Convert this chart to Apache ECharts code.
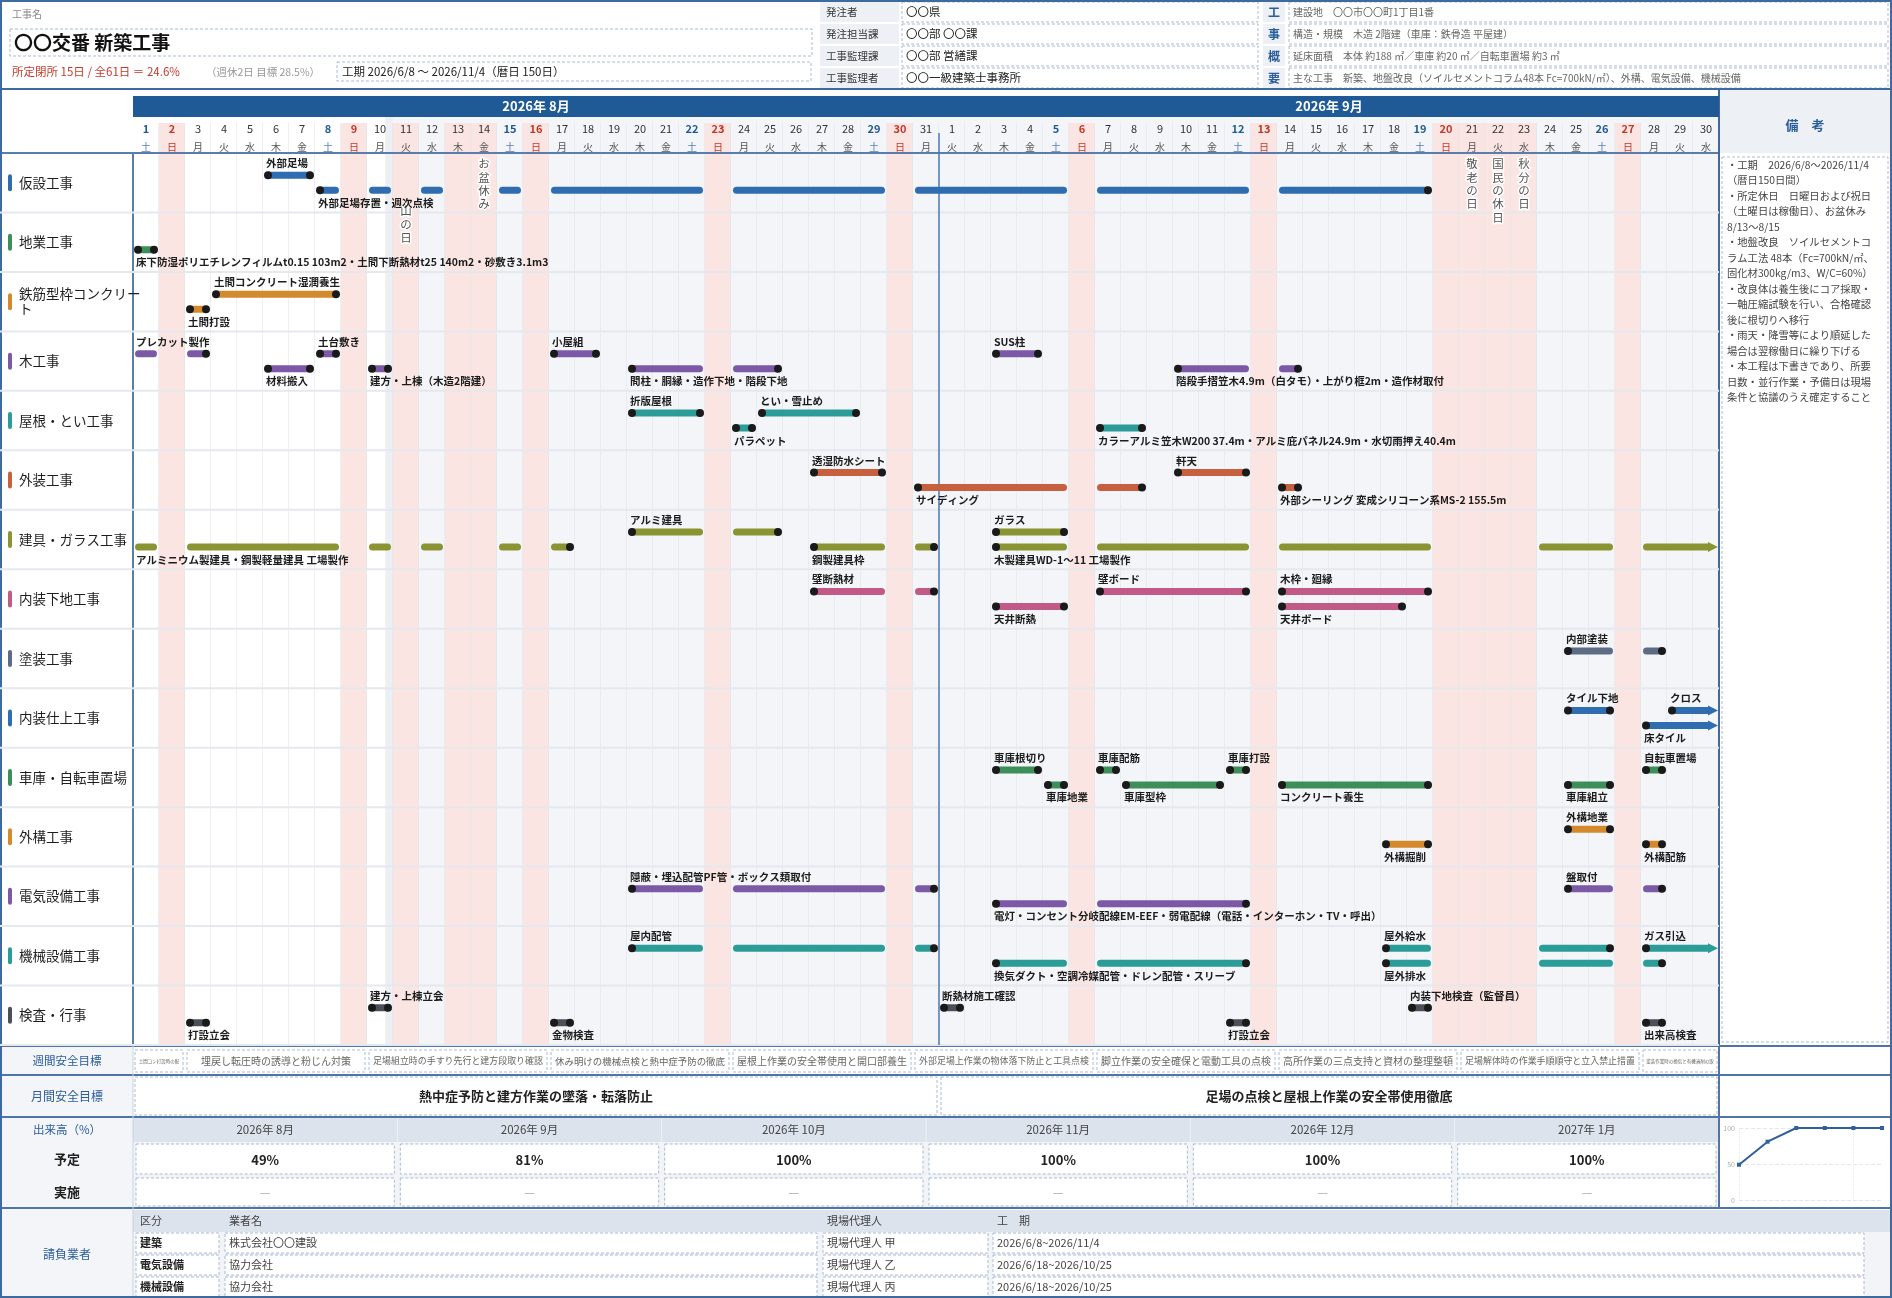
<!DOCTYPE html>
<html>
<head>
<meta charset="utf-8">
<script src="https://cdn.jsdelivr.net/npm/echarts@6/dist/echarts.min.js"></script>
<style>
html,body{margin:0;padding:0;background:#fff}
#main{width:1892px;height:1298px}
</style>
</head>
<body>
<div id="main"></div>
<script>
// ===== データ =====
var rows = ['仮設工事','地業工事','鉄筋型枠コンクリート','木工事','屋根・とい工事','外装工事','建具・ガラス工事',
  '内装下地工事','塗装工事','内装仕上工事','車庫・自転車置場','外構工事','電気設備工事','機械設備工事','検査・行事'];
var rowColors = ['#2f6cb0','#3e8e5a','#d48a2c','#7c59a6','#2b9c97','#c6603e','#8b9433',
  '#c15a86','#5e6b85','#2f6cb0','#3e8e5a','#d48a2c','#7c59a6','#2b9c97','#4b5058'];

var holidays = ['08-11','08-13','08-14','09-21','09-22','09-23'];
var holidayNames = [['08-11','山の日'],['08-14','お盆休み'],['09-21','敬老の日'],['09-22','国民の休日'],['09-23','秋分の日']];
var months = [['2026年 8月','08-01','08-31'],['2026年 9月','09-01','09-30']];

// [工種, 段(0上/1下), 開始, 終了, 名称]
var tasks = [
  [0,0,'08-06','08-07','外部足場'],
  [0,1,'08-08','09-19','外部足場存置・週次点検'],
  [1,1,'08-01','08-01','床下防湿ポリエチレンフィルムt0.15 103m2・土間下断熱材t25 140m2・砂敷き3.1m3'],
  [2,0,'08-04','08-08','土間コンクリート湿潤養生'],
  [2,1,'08-03','08-03','土間打設'],
  [3,0,'07-29','08-03','プレカット製作'],
  [3,0,'08-08','08-08','土台敷き'],
  [3,0,'08-17','08-18','小屋組'],
  [3,0,'09-03','09-04','SUS柱'],
  [3,1,'08-06','08-07','材料搬入'],
  [3,1,'08-10','08-10','建方・上棟（木造2階建）'],
  [3,1,'08-20','08-25','間柱・胴縁・造作下地・階段下地'],
  [3,1,'09-10','09-14','階段手摺笠木4.9m（白タモ）・上がり框2m・造作材取付'],
  [4,0,'08-20','08-22','折版屋根'],
  [4,0,'08-25','08-28','とい・雪止め'],
  [4,1,'08-24','08-24','パラペット'],
  [4,1,'09-07','09-08','カラーアルミ笠木W200 37.4m・アルミ庇パネル24.9m・水切雨押え40.4m'],
  [5,0,'08-27','08-29','透湿防水シート'],
  [5,0,'09-10','09-12','軒天'],
  [5,1,'08-31','09-08','サイディング'],
  [5,1,'09-14','09-14','外部シーリング 変成シリコーン系MS-2 155.5m'],
  [6,0,'08-20','08-25','アルミ建具'],
  [6,0,'09-03','09-05','ガラス'],
  [6,1,'07-27','08-17','アルミニウム製建具・鋼製軽量建具 工場製作'],
  [6,1,'08-27','08-31','鋼製建具枠'],
  [6,1,'09-03','10-10','木製建具WD-1～11 工場製作'],
  [7,0,'08-27','08-31','壁断熱材'],
  [7,0,'09-07','09-12','壁ボード'],
  [7,0,'09-14','09-19','木枠・廻縁'],
  [7,1,'09-03','09-05','天井断熱'],
  [7,1,'09-14','09-18','天井ボード'],
  [8,0,'09-25','09-28','内部塗装'],
  [9,0,'09-25','09-26','タイル下地'],
  [9,0,'09-29','10-10','クロス'],
  [9,1,'09-28','10-10','床タイル'],
  [10,0,'09-03','09-04','車庫根切り'],
  [10,0,'09-07','09-07','車庫配筋'],
  [10,0,'09-12','09-12','車庫打設'],
  [10,0,'09-28','09-28','自転車置場'],
  [10,1,'09-05','09-05','車庫地業'],
  [10,1,'09-08','09-11','車庫型枠'],
  [10,1,'09-14','09-19','コンクリート養生'],
  [10,1,'09-25','09-26','車庫組立'],
  [11,0,'09-25','09-26','外構地業'],
  [11,1,'09-18','09-19','外構掘削'],
  [11,1,'09-28','09-28','外構配筋'],
  [12,0,'08-20','08-31','隠蔽・埋込配管PF管・ボックス類取付'],
  [12,0,'09-25','09-28','盤取付'],
  [12,1,'09-03','09-12','電灯・コンセント分岐配線EM-EEF・弱電配線（電話・インターホン・TV・呼出）'],
  [13,0,'08-20','08-31','屋内配管'],
  [13,0,'09-18','09-26','屋外給水'],
  [13,0,'09-28','10-10','ガス引込'],
  [13,1,'09-03','09-12','換気ダクト・空調冷媒配管・ドレン配管・スリーブ'],
  [13,1,'09-18','09-28','屋外排水'],
  [14,0,'08-10','08-10','建方・上棟立会'],
  [14,0,'09-01','09-01','断熱材施工確認'],
  [14,0,'09-19','09-19','内装下地検査（監督員）'],
  [14,1,'08-03','08-03','打設立会'],
  [14,1,'08-17','08-17','金物検査'],
  [14,1,'09-12','09-12','打設立会'],
  [14,1,'09-28','09-28','出来高検査']
];

var weeklyGoals = [
  ['08-01','08-02','土間コン打設時の配筋点検と打設管理'],
  ['08-03','08-09','埋戻し転圧時の誘導と粉じん対策'],
  ['08-10','08-16','足場組立時の手すり先行と建方段取り確認'],
  ['08-17','08-23','休み明けの機械点検と熱中症予防の徹底'],
  ['08-24','08-30','屋根上作業の安全帯使用と開口部養生'],
  ['08-31','09-06','外部足場上作業の物体落下防止と工具点検'],
  ['09-07','09-13','脚立作業の安全確保と電動工具の点検'],
  ['09-14','09-20','高所作業の三点支持と資材の整理整頓'],
  ['09-21','09-27','足場解体時の作業手順順守と立入禁止措置'],
  ['09-28','09-30','塗装作業時の換気と有機溶剤の取扱い']
];
var monthlyGoals = [
  ['08-01','08-31','熱中症予防と建方作業の墜落・転落防止'],
  ['09-01','09-30','足場の点検と屋根上作業の安全帯使用徹底']
];

var progressMonths = ['2026年 8月','2026年 9月','2026年 10月','2026年 11月','2026年 12月','2027年 1月'];
var progressPlan = [49, 81, 100, 100, 100, 100];
var progressActual = [null, null, null, null, null, null];
var progressTicks = [0, 50, 100];

var contractors = [
  ['建築','株式会社〇〇建設','現場代理人 甲','2026/6/8~2026/11/4'],
  ['電気設備','協力会社','現場代理人 乙','2026/6/18~2026/10/25'],
  ['機械設備','協力会社','現場代理人 丙','2026/6/18~2026/10/25']
];

var ordererInfo = [['発注者','〇〇県'],['発注担当課','〇〇部 〇〇課'],['工事監理課','〇〇部 営繕課'],['工事監理者','〇〇一級建築士事務所']];
var outline = [
  ['工','建設地　〇〇市〇〇町1丁目1番'],
  ['事','構造・規模　木造 2階建（車庫：鉄骨造 平屋建）'],
  ['概','延床面積　本体 約188 ㎡／車庫 約20 ㎡／自転車置場 約3 ㎡'],
  ['要','主な工事　新築、地盤改良（ソイルセメントコラム48本 Fc=700kN/㎡）、外構、電気設備、機械設備']
];
var remarks = [
  '・工期　2026/6/8～2026/11/4','（暦日150日間）','・所定休日　日曜日および祝日','（土曜日は稼働日）、お盆休み','8/13～8/15',
  '・地盤改良　ソイルセメントコ','ラム工法 48本（Fc=700kN/㎡、','固化材300kg/m3、W/C=60%）',
  '・改良体は養生後にコア採取・','一軸圧縮試験を行い、合格確認','後に根切りへ移行',
  '・雨天・降雪等により順延した','場合は翌稼働日に繰り下げる',
  '・本工程は下書きであり、所要','日数・並行作業・予備日は現場','条件と協議のうえ確定すること'
];

// ===== 準備 =====
var FONT = '"Noto Sans CJK JP", "Noto Sans", sans-serif';
var START = Date.UTC(2026, 7, 1);
var N = 61;
var WEEK = ['日','月','火','水','木','金','土'];
function dayIdx(s) { var p = s.split('-'); return Math.round((Date.UTC(2026, +p[0] - 1, +p[1]) - START) / 864e5); }
var holidayIdx = holidays.map(dayIdx);
var days = [];
for (var i = 0; i < N; i++) {
  var dt = new Date(START + i * 864e5);
  var wd = dt.getUTCDay();
  var hol = holidayIdx.indexOf(i) >= 0;
  days.push({ key: (dt.getUTCMonth() + 1) + '-' + dt.getUTCDate(), date: dt.getUTCDate(), wd: wd,
    off: wd === 0 || hol, type: wd === 6 ? 'S' : (wd === 0 ? 'H' : 'N') });
}
var holidayTextTop = { '08-11': 211 };
var SHADE_FROM = 9.7;

var myChart = echarts.init(document.getElementById('main'));

// 背景（日ごとの列）
function renderBackdrop(params, api) {
  var d = params.dataIndex, cs = params.coordSys;
  var x0 = api.coord([d, 0])[0], x1 = api.coord([d + 1, 0])[0];
  var top = cs.y - 36, bottom = cs.y + cs.height;
  var ch = [];
  var base = d >= SHADE_FROM ? '#f3f5f9' : '#ffffff';
  ch.push({ type: 'rect', shape: { x: x0, y: top, width: x1 - x0, height: bottom - top }, style: { fill: base } });
  if (d < SHADE_FROM && d + 1 > SHADE_FROM) {
    var xs = api.coord([SHADE_FROM, 0])[0];
    ch.push({ type: 'rect', shape: { x: xs, y: top, width: x1 - xs, height: bottom - top }, style: { fill: '#eceff4' } });
  }
  if (days[d].off) ch.push({ type: 'rect', shape: { x: x0, y: top + 6, width: x1 - x0, height: bottom - top - 6 }, style: { fill: '#fbe5e2' } });
  ch.push({ type: 'line', shape: { x1: x1, y1: top + 6, x2: x1, y2: bottom }, style: { stroke: '#e1e4e9', lineWidth: 1.2 } });
  return { type: 'group', children: ch };
}

// 月帯
function renderMonth(params, api) {
  var m = months[params.dataIndex], cs = params.coordSys;
  var x0 = api.coord([dayIdx(m[1]), 0])[0], x1 = api.coord([dayIdx(m[2]) + 1, 0])[0];
  return { type: 'group', children: [
    { type: 'rect', shape: { x: x0, y: cs.y - 57, width: x1 - x0, height: 21 }, style: { fill: '#1f5a96' } },
    { type: 'text', style: { text: m[0], x: (x0 + x1) / 2, y: cs.y - 46.5, align: 'center', verticalAlign: 'middle',
      fill: '#fff', fontSize: 13, fontWeight: 'bold', fontFamily: FONT } }
  ] };
}

// 工種名と行区切り
function renderRow(params, api) {
  var r = params.dataIndex, cs = params.coordSys;
  var c = api.coord([0, r]), h = api.size([0, 1])[1];
  var yb = c[1] + h / 2;
  return { type: 'group', children: [
    { type: 'line', shape: { x1: 0, y1: yb, x2: cs.x + cs.width, y2: yb }, style: { stroke: '#e5e8ed', lineWidth: 2 } },
    { type: 'rect', shape: { x: 8, y: c[1] - 8.5, width: 4, height: 17, r: 2 }, style: { fill: rowColors[r] } },
    { type: 'text', style: { text: rows[r], x: 19, y: c[1], align: 'left', verticalAlign: 'middle', width: 123, overflow: 'break',
      lineHeight: 15, fill: '#1e1e1e', fontSize: 13.5, fontFamily: FONT } }
  ] };
}

// 祝日名（縦書き）
function renderHoliday(params, api) {
  var hn = holidayNames[params.dataIndex];
  var d = dayIdx(hn[0]);
  var x = (api.coord([d, 0])[0] + api.coord([d + 1, 0])[0]) / 2;
  var top = holidayTextTop[hn[0]] || 164;
  var ch = [];
  for (var k = 0; k < hn[1].length; k++) {
    ch.push({ type: 'text', style: { text: hn[1][k], x: x, y: top + k * 13.3, align: 'center', verticalAlign: 'middle',
      fill: '#555', stroke: '#fff', lineWidth: 3, fontSize: 11.5, fontFamily: FONT } });
  }
  return { type: 'group', children: ch };
}

// 工程バー
function renderTask(params, api) {
  var t = tasks[params.dataIndex];
  var row = t[0], s = dayIdx(t[2]), e = dayIdx(t[3]);
  var clipS = s < 0, clipE = e > N - 1;
  var s0 = Math.max(s, 0), e0 = Math.min(e, N - 1);
  var yc = api.coord([0, row])[1] + (t[1] ? 7.5 : -7.5);
  var color = rowColors[row];
  var segs = [], cur = null;
  for (var d = s0; d <= e0; d++) {
    if (days[d].off) { if (cur) { segs.push(cur); cur = null; } continue; }
    if (!cur) cur = [d, d]; else cur[1] = d;
  }
  if (cur) segs.push(cur);
  var ch = [], firstX = null, lastX = null;
  segs.forEach(function (sg, k) {
    var x0 = api.coord([sg[0], row])[0] + 2, x1 = api.coord([sg[1] + 1, row])[0] - 2;
    var isLast = k === segs.length - 1;
    if (isLast && clipE) {
      x1 = api.coord([N, row])[0] - 1;
      ch.push({ type: 'rect', shape: { x: x0, y: yc - 3.5, width: x1 - 7 - x0, height: 7, r: 3.5 }, style: { fill: color } });
      ch.push({ type: 'polygon', shape: { points: [[x1 - 10, yc - 5], [x1, yc], [x1 - 10, yc + 5]] }, style: { fill: color } });
    } else {
      ch.push({ type: 'rect', shape: { x: x0, y: yc - 3.5, width: x1 - x0, height: 7, r: 3.5 }, style: { fill: color } });
    }
    if (firstX === null) firstX = x0;
    lastX = x1;
  });
  if (!clipS) ch.push({ type: 'circle', shape: { cx: firstX + 3, cy: yc, r: 4 }, style: { fill: '#1a1a1a' } });
  if (!clipE) ch.push({ type: 'circle', shape: { cx: lastX - 3, cy: yc, r: 4 }, style: { fill: '#1a1a1a' } });
  ch.push({ type: 'text', style: { text: t[4], x: firstX + 1, y: yc + (t[1] ? 12.5 : -12), align: 'left', verticalAlign: 'middle',
    fill: '#1c1c1c', fontSize: 10.5, fontWeight: 'bold', fontFamily: FONT } });
  return { type: 'group', children: ch };
}

// 週間・月間安全目標
function renderWeekly(params, api) {
  var g = weeklyGoals[params.dataIndex], cs = params.coordSys;
  var x0 = api.coord([dayIdx(g[0]), 0])[0] + 2, x1 = api.coord([dayIdx(g[1]) + 1, 0])[0] - 2;
  var y = cs.y + cs.height + 5, w = x1 - x0;
  var fs = Math.max(4.5, Math.min(10, (w - 8) / g[2].length));
  return { type: 'group', children: [
    { type: 'rect', shape: { x: x0, y: y, width: w, height: 22 }, style: { fill: '#fff', stroke: '#a9bbd2', lineWidth: 1, lineDash: [3, 2] } },
    { type: 'text', style: { text: g[2], x: (x0 + x1) / 2, y: y + 11, align: 'center', verticalAlign: 'middle', width: w - 4, overflow: 'truncate', ellipsis: '',
      fill: '#666', fontSize: fs, fontFamily: FONT } }
  ] };
}
function renderMonthly(params, api) {
  var g = monthlyGoals[params.dataIndex], cs = params.coordSys;
  var x0 = api.coord([dayIdx(g[0]), 0])[0] + 2, x1 = api.coord([dayIdx(g[1]) + 1, 0])[0] - 2;
  var y = cs.y + cs.height + 32;
  return { type: 'group', children: [
    { type: 'rect', shape: { x: x0, y: y, width: x1 - x0, height: 38 }, style: { fill: '#fff', stroke: '#a9bbd2', lineWidth: 1, lineDash: [3, 2] } },
    { type: 'text', style: { text: g[2], x: (x0 + x1) / 2, y: y + 19, align: 'center', verticalAlign: 'middle',
      fill: '#222', fontSize: 13, fontWeight: 'bold', fontFamily: FONT } }
  ] };
}

// ===== 枠・表（graphic） =====
var G = [];
function R(x, y, w, h, fill, stroke, dash) {
  G.push({ type: 'rect', silent: true, shape: { x: x, y: y, width: w, height: h },
    style: { fill: fill || 'none', stroke: stroke || null, lineWidth: 1, lineDash: dash ? [3, 2] : null } });
}
function T(x, y, text, size, color, weight, align) {
  G.push({ type: 'text', silent: true, style: { text: text, x: x, y: y, fill: color, fontSize: size, fontWeight: weight || 'normal',
    fontFamily: FONT, align: align || 'left', verticalAlign: 'middle' } });
}
function L(x1, y1, x2, y2, color, w) {
  G.push({ type: 'line', silent: true, shape: { x1: x1, y1: y1, x2: x2, y2: y2 }, style: { stroke: color, lineWidth: w } });
}
var DASH = '#a9bbd2', LBL = '#edf1f6', HEAD = '#dce3ed', BLUE = '#2a5d9a', SEC = '#4f74a8';

// ヘッダー左
T(12, 14, '工事名', 10, '#888');
R(10, 29, 802, 27, '#fff', DASH, true);
T(14, 43, '〇〇交番 新築工事', 19, '#111', 'bold');
T(12, 72, '所定閉所 15日 / 全61日 ＝ 24.6%', 11.5, '#c43b2b');
T(206, 72, '（週休2日 目標 28.5%）', 10.5, '#999');
R(337, 62, 474, 19, '#fff', DASH, true);
T(342, 72, '工期 2026/6/8 ～ 2026/11/4（暦日 150日）', 11.5, '#222');
// ヘッダー中央
ordererInfo.forEach(function (r, i) {
  var y = 1 + i * 22;
  R(820, y + 1, 79, 20, LBL);
  T(826, y + 11, r[0], 10.5, '#333');
  R(902, y + 1, 356, 20, '#fff', DASH, true);
  T(906, y + 11, r[1], 11.5, '#222');
});
// 工事概要
outline.forEach(function (r, i) {
  var y = 1 + i * 22;
  R(1263, y + 1, 22, 20, LBL);
  T(1274, y + 11, r[0], 12, BLUE, 'bold', 'center');
  R(1289, y + 1, 599, 20, '#fff', DASH, true);
  T(1293, y + 11, r[1], 10, '#666');
});

// 備考
R(1720, 90, 171, 63, LBL);
T(1805, 125, '備　考', 13, BLUE, 'bold', 'center');
R(1722, 157, 166, 885, '#fff', DASH, true);
remarks.forEach(function (s, i) { T(1727, 165 + i * 15.5, s, 10.3, '#444'); });

// 下部ラベル列
R(1, 1047, 132, 250, '#f3f5f8');
T(67, 1061, '週間安全目標', 11.5, BLUE, 'normal', 'center');
T(67, 1096, '月間安全目標', 12, BLUE, 'normal', 'center');
T(67, 1130, '出来高（%）', 11.5, BLUE, 'normal', 'center');
T(67, 1159, '予定', 13, '#222', 'bold', 'center');
T(67, 1192, '実施', 13, '#222', 'bold', 'center');
T(67, 1254, '請負業者', 12, BLUE, 'normal', 'center');

// 出来高表
var colW = 1586 / progressMonths.length;
R(133, 1118, 1586, 24, HEAD);
R(133, 1142, 1586, 65, '#f2f4f7');
progressMonths.forEach(function (m, i) {
  var x = 133 + i * colW;
  T(x + colW / 2, 1130, m, 11.5, '#444', 'normal', 'center');
  if (i > 0) L(x, 1118, x, 1142, '#eef1f5', 1);
  R(x + 3, 1144, colW - 6, 30, '#fff', DASH, true);
  T(x + colW / 2, 1160, progressPlan[i] + '%', 13, '#222', 'bold', 'center');
  R(x + 3, 1178, colW - 6, 28, '#fff', DASH, true);
  T(x + colW / 2, 1192, progressActual[i] == null ? '—' : progressActual[i] + '%', 12, '#aaa', 'normal', 'center');
});

// 請負業者表
R(133, 1210, 1757, 22, HEAD);
R(133, 1232, 1757, 65, '#f2f4f7');
var cCols = [[136, 83], [225, 592], [823, 165], [993, 871]];
var cHead = ['区分', '業者名', '現場代理人', '工　期'];
cHead.forEach(function (h, j) { T(cCols[j][0] + 4, 1221, h, 11, '#444'); });
contractors.forEach(function (c, i) {
  var y = 1233 + i * 22;
  c.forEach(function (v, j) {
    R(cCols[j][0], y, cCols[j][1], 20, '#fff', DASH, true);
    T(cCols[j][0] + 4, y + 10, v, 11, j === 0 ? '#222' : '#444', j === 0 ? 'bold' : 'normal');
  });
});

// 罫線
L(0, 89, 1892, 89, '#3f6aa1', 2);
L(0, 153, 1719, 153, '#5a7db0', 2);
L(133, 153, 133, 1046, '#5a7db0', 2);
L(1719, 89, 1719, 1046, '#3f6aa1', 2);
[1046, 1075, 1117, 1208].forEach(function (y) { L(0, y, 1892, y, SEC, 2); });
L(133, 1046, 133, 1298, '#c9d3e0', 1);
L(1719, 1046, 1719, 1208, SEC, 2);
G.push({ type: 'rect', silent: true, shape: { x: 1, y: 1, width: 1890, height: 1296 }, style: { fill: 'none', stroke: '#3f6aa1', lineWidth: 2 } });

// ===== オプション =====
var option = {
  animation: false,
  backgroundColor: '#fff',
  textStyle: { fontFamily: FONT },
  graphic: { elements: G },
  grid: [
    { left: 133, top: 153, width: 1586, height: 892 },
    { left: 1739, top: 1128, width: 143, height: 72 }
  ],
  xAxis: [
    { type: 'value', gridIndex: 0, min: 0, max: N, show: false },
    { type: 'category', gridIndex: 0, position: 'top', data: days.map(function (d) { return d.key; }),
      axisLine: { show: false }, axisTick: { show: false }, splitLine: { show: false },
      axisLabel: { interval: 0, margin: -4,
        formatter: function (v, i) { var d = days[i]; return '{n' + d.type + '|' + d.date + '}\n{w' + d.type + '|' + WEEK[d.wd] + '}'; },
        rich: {
          nN: { color: '#333', fontSize: 11, lineHeight: 19, fontFamily: FONT },
          nS: { color: '#1f5a96', fontSize: 11, fontWeight: 'bold', lineHeight: 19, fontFamily: FONT },
          nH: { color: '#c0392b', fontSize: 11, fontWeight: 'bold', lineHeight: 19, fontFamily: FONT },
          wN: { color: '#555', fontSize: 10, lineHeight: 19, fontFamily: FONT },
          wS: { color: '#5b7fb0', fontSize: 10, lineHeight: 19, fontFamily: FONT },
          wH: { color: '#c0392b', fontSize: 10, lineHeight: 19, fontFamily: FONT }
        } } },
    { type: 'category', gridIndex: 1, data: progressMonths, boundaryGap: false,
      axisLine: { show: false }, axisTick: { show: false }, axisLabel: { show: false },
      splitLine: { show: true, lineStyle: { color: '#e3e6ea', type: 'dotted' } } }
  ],
  yAxis: [
    { type: 'category', gridIndex: 0, data: rows, inverse: true, show: false },
    { type: 'value', gridIndex: 1, min: progressTicks[0], max: progressTicks[2], interval: progressTicks[1] - progressTicks[0],
      axisLine: { show: false }, axisTick: { show: false },
      axisLabel: { fontSize: 7, color: '#aaa', margin: 4 },
      splitLine: { lineStyle: { color: '#e3e6ea', type: 'dashed' } } }
  ],
  series: [
    { type: 'custom', name: 'backdrop', z: -5, clip: false, silent: true, renderItem: renderBackdrop,
      data: days.map(function (d, i) { return [i, 0]; }) },
    { type: 'custom', name: 'rows', z: 3, clip: false, silent: true, renderItem: renderRow,
      data: rows.map(function (r, i) { return [0, i]; }) },
    { type: 'custom', name: 'months', z: 3, clip: false, silent: true, renderItem: renderMonth,
      data: months.map(function (m) { return [dayIdx(m[1]), 0]; }) },
    { type: 'custom', name: 'monthLine', z: 4, clip: false, silent: true,
      renderItem: function (params, api) {
        var x = api.coord([params.dataIndex === 0 ? dayIdx(months[1][1]) : 0, 0])[0], cs = params.coordSys;
        return { type: 'line', shape: { x1: x, y1: cs.y - 20, x2: x, y2: cs.y + cs.height }, style: { stroke: '#4d79b0', lineWidth: 1.5 } };
      }, data: [[dayIdx(months[1][1]), 0]] },
    { type: 'custom', name: 'holidays', z: 4, clip: false, silent: true, renderItem: renderHoliday,
      data: holidayNames.map(function (h) { return [dayIdx(h[0]), 0]; }) },
    { type: 'custom', name: 'tasks', z: 5, clip: false, silent: true, renderItem: renderTask,
      data: tasks.map(function (t) { return [Math.max(0, dayIdx(t[2])), t[0]]; }) },
    { type: 'custom', name: 'weekly', z: 3, clip: false, silent: true, renderItem: renderWeekly,
      data: weeklyGoals.map(function (g) { return [dayIdx(g[0]), 0]; }) },
    { type: 'custom', name: 'monthly', z: 3, clip: false, silent: true, renderItem: renderMonthly,
      data: monthlyGoals.map(function (g) { return [dayIdx(g[0]), 0]; }) },
    { type: 'line', xAxisIndex: 2, yAxisIndex: 1, data: progressPlan, symbol: 'rect', symbolSize: 4,
      lineStyle: { color: '#2f5f9c', width: 2 }, itemStyle: { color: '#2f5f9c' }, silent: true }
  ]
};
myChart.setOption(option);
</script>
</body>
</html>
